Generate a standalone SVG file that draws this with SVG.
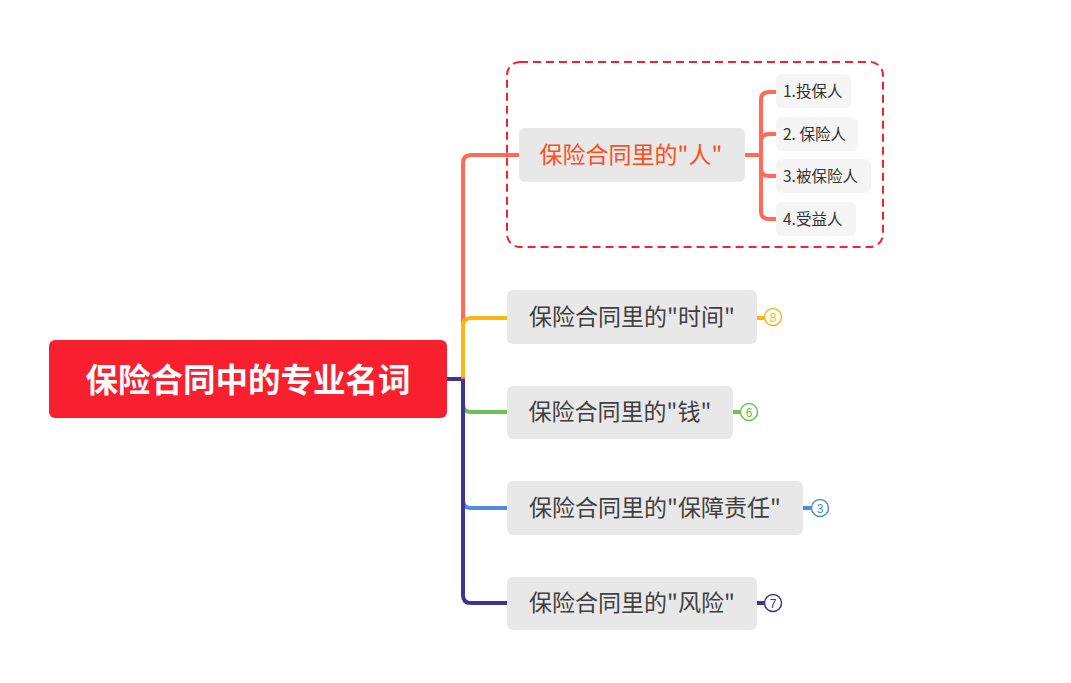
<svg xmlns="http://www.w3.org/2000/svg" width="1071" height="683" viewBox="0 0 1071 683">
<style>
.l{fill:none;stroke-width:4;stroke-linecap:butt;stroke-linejoin:round}
.t{font-family:"Noto Sans CJK SC","Liberation Sans",sans-serif}
.main{fill:#e8e8e8}
.mt{font-size:23px;fill:#404040}
.sub{fill:#f5f5f5}
.st{font-size:15.5px;fill:#333}
.badge{fill:#fff;stroke-width:1.5}
.bt{font-size:12px;font-family:"Liberation Sans",sans-serif;text-anchor:middle}
</style>
<rect width="1071" height="683" fill="#fff"/>
<g id="connectors">
<path class="l" stroke="#6cc157" d="M463 396 V404 Q463 412 471 412 H507"/>
<path class="l" stroke="#4f8ddb" d="M463 492 V500 Q463 508 471 508 H507"/>
<path class="l" stroke="#3f3393" d="M447 379 H463 V595 Q463 603 471 603 H507"/>
<path class="l" stroke="#ff6b5a" d="M463 379 V163 Q463 155 471 155 H519"/>
<path class="l" stroke="#fdb515" d="M463 377 V326 Q463 318 471 318 H507"/>
<path class="l" stroke="#ff6b5a" d="M745 155 H761"/>
<path class="l" stroke="#ff6b5a" d="M776 92 H769 Q761 92 761 100 V211 Q761 219 769 219 H776"/>
<path class="l" stroke="#ff6b5a" d="M776 134 H769 Q761 134 761 142 V168 Q761 176 769 176 H776"/>
<path class="l" stroke="#fdb515" d="M757 318 H764"/>
<path class="l" stroke="#6cc157" d="M733 412 H740"/>
<path class="l" stroke="#4f8ddb" d="M803 508 H811"/>
<path class="l" stroke="#3f3393" d="M757 603 H764"/>
</g>
<g id="boundary">
<rect x="507" y="62" width="376" height="185" rx="13" fill="none" stroke="#f5222d" stroke-width="2" stroke-dasharray="8 5"/>
</g>
<g id="root">
<rect x="49" y="340" width="398" height="78" rx="6" fill="#f8202f"/>
<text class="t" x="248" y="392" font-size="32.5" font-weight="bold" fill="#fff" text-anchor="middle">保险合同中的专业名词</text>
</g>
<g id="people">
<rect class="main" x="519" y="128" width="226" height="54" rx="6"/>
<text class="t" x="631" y="163" font-size="23" fill="#ff4d1c" text-anchor="middle">保险合同里的"人"</text>
</g>
<g id="c1"><rect class="sub" x="776" y="74" width="75" height="34" rx="6"/><text class="t st" x="783" y="97">1.投保人</text></g>
<g id="c2"><rect class="sub" x="776" y="117" width="82" height="34" rx="6"/><text class="t st" x="783" y="140">2. 保险人</text></g>
<g id="c3"><rect class="sub" x="776" y="159" width="95" height="34" rx="6"/><text class="t st" x="783" y="182">3.被保险人</text></g>
<g id="c4"><rect class="sub" x="776" y="202" width="80" height="34" rx="6"/><text class="t st" x="783" y="225">4.受益人</text></g>
<g id="time">
<rect class="main" x="507" y="290" width="250" height="54" rx="6"/>
<text class="t mt" x="632" y="325" text-anchor="middle">保险合同里的"时间"</text>
<circle class="badge" cx="773" cy="317" r="8.5" stroke="#fdb515"/>
<text class="bt" x="773" y="321.5" fill="#fdb515">8</text>
</g>
<g id="money">
<rect class="main" x="507" y="386" width="226" height="53" rx="6"/>
<text class="t mt" x="620" y="420" text-anchor="middle">保险合同里的"钱"</text>
<circle class="badge" cx="749" cy="412" r="8.5" stroke="#6cc157"/>
<text class="bt" x="749" y="416.5" fill="#6cc157">6</text>
</g>
<g id="duty">
<rect class="main" x="507" y="481" width="296" height="54" rx="6"/>
<text class="t mt" x="655" y="516" text-anchor="middle">保险合同里的"保障责任"</text>
<circle class="badge" cx="820" cy="508" r="8.5" stroke="#4f8ddb"/>
<text class="bt" x="820" y="512.5" fill="#4f8ddb">3</text>
</g>
<g id="risk">
<rect class="main" x="507" y="577" width="250" height="53" rx="6"/>
<text class="t mt" x="632" y="611" text-anchor="middle">保险合同里的"风险"</text>
<circle class="badge" cx="773" cy="603" r="8.5" stroke="#3f3393"/>
<text class="bt" x="773" y="607.5" fill="#3f3393">7</text>
</g>
</svg>
